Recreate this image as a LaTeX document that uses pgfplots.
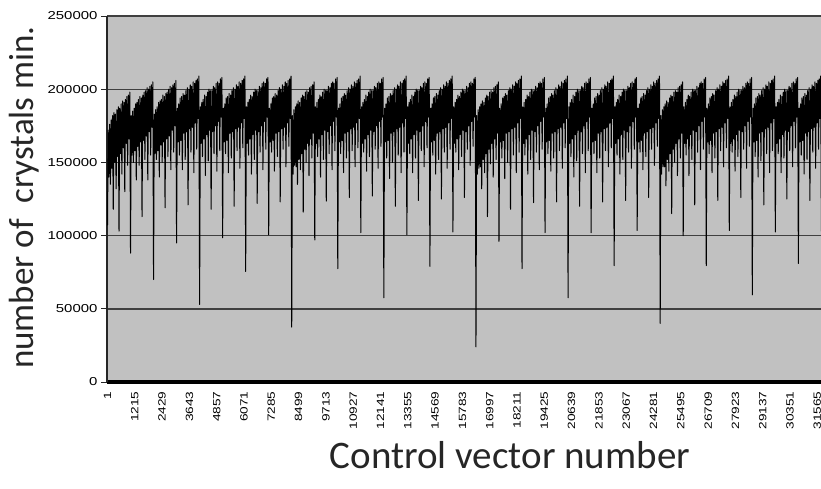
\documentclass[border=0pt]{standalone}
\usepackage{pgfplots}
\pgfplotsset{compat=1.18}
\usepackage{fontspec}
\usepackage{graphicx}
\setmainfont{Carlito}
\newfontfamily\arialf{Liberation Sans}
\newcommand{\sx}[1]{\scalebox{1.3}[1]{#1}}
\newcommand{\sy}[1]{\scalebox{1.3}[1]{#1}}
\definecolor{plotbg}{RGB}{193,193,193}
\begin{document}
\begin{tikzpicture}
\begin{axis}[
  at={(107pt,106pt)}, anchor=south west,
  scale only axis, width=737.4pt, height=366pt,
  xmin=-21, xmax=32768, ymin=0, ymax=250000,
  scaled ticks=false,
  axis background/.style={fill=plotbg},
  axis x line*=bottom, axis y line*=left,
  axis line style={-},
  x axis line style={line width=4.5pt, black},
  y axis line style={line width=1.4pt, black!85},
  ytick={0,50000,100000,150000,200000,250000},
  yticklabels={\sy{0},\sy{50000},\sy{100000},\sy{150000},\sy{200000},\sy{250000}},
  ymajorgrids, major grid style={black!75, line width=1.4pt},
  tick align=outside, major tick length=6pt,
  ytick style={black!85, line width=1pt},
  xtick={1,1215,2429,3643,4857,6071,7285,8499,9713,10927,12141,13355,14569,15783,16997,18211,19425,20639,21853,23067,24281,25495,26709,27923,29137,30351,31565},
  xticklabels={\sx{1},\sx{1215},\sx{2429},\sx{3643},\sx{4857},\sx{6071},\sx{7285},\sx{8499},\sx{9713},\sx{10927},\sx{12141},\sx{13355},\sx{14569},\sx{15783},\sx{16997},\sx{18211},\sx{19425},\sx{20639},\sx{21853},\sx{23067},\sx{24281},\sx{25495},\sx{26709},\sx{27923},\sx{29137},\sx{30351},\sx{31565}},
  xtick style={draw=none},
  xticklabel style={font=\arialf\fontsize{10.5}{10.5}\selectfont, rotate=90, anchor=east, black},
  yticklabel style={font=\arialf\fontsize{11.5}{11.5}\selectfont, black},
  xlabel={Control vector number},
  ylabel={number of\ \ crystals min.},
  xlabel style={font=\fontsize{39}{42}\selectfont, at={(axis description cs:0.5465,-0.199)}, anchor=center, black!85},
  ylabel style={font=\fontsize{35}{40}\selectfont, at={(axis description cs:-0.113,0.504)}, anchor=center, black!85},
]
\addplot[black, line width=1pt, line join=round] table[x expr=\coordindex*32+1, y=v, row sep=\\] {
v\\
107000\\172000\\140000\\176000\\135000\\179000\\146000\\182000\\118000\\184000\\150000\\183000\\132000\\186000\\154000\\188000\\103000\\187000\\156000\\190000\\142000\\192000\\160000\\191000\\130000\\193000\\163000\\195000\\148000\\196000\\166000\\198000\\
88000\\182000\\155000\\185000\\150000\\187000\\158000\\190000\\138000\\191000\\161000\\193000\\148000\\195000\\164000\\194000\\113000\\196000\\165000\\198000\\152000\\199000\\168000\\201000\\138000\\200000\\171000\\202000\\155000\\203000\\174000\\205000\\
70000\\183000\\156000\\186000\\152000\\188000\\158000\\191000\\140000\\192000\\162000\\193000\\150000\\196000\\164000\\195000\\119000\\197000\\166000\\198000\\154000\\200000\\168000\\202000\\145000\\201000\\172000\\203000\\157000\\204000\\175000\\206000\\
95000\\187000\\164000\\190000\\155000\\194000\\165000\\195000\\145000\\197000\\170000\\196000\\152000\\199000\\171000\\201000\\121000\\200000\\173000\\203000\\157000\\202000\\174000\\205000\\143000\\204000\\177000\\206000\\159000\\207000\\180000\\209000\\
53000\\188000\\163000\\191000\\154000\\193000\\166000\\196000\\141000\\195000\\169000\\198000\\151000\\200000\\172000\\199000\\118000\\199000\\171000\\202000\\156000\\201000\\175000\\204000\\144000\\205000\\178000\\204000\\158000\\207000\\181000\\208000\\
98500\\187000\\164000\\190000\\156000\\194000\\165000\\195000\\143000\\197000\\170000\\196000\\153000\\199000\\171000\\201000\\120000\\200000\\173000\\203000\\158000\\202000\\174000\\205000\\146000\\204000\\177000\\206000\\160000\\207000\\180000\\209000\\
75500\\188000\\163000\\191000\\155000\\193000\\166000\\196000\\142000\\195000\\169000\\198000\\152000\\200000\\172000\\199000\\122000\\199000\\171000\\202000\\157000\\201000\\175000\\204000\\145000\\205000\\178000\\204000\\159000\\207000\\181000\\208000\\
100500\\187000\\164000\\190000\\157000\\194000\\165000\\195000\\144000\\197000\\170000\\196000\\154000\\199000\\171000\\201000\\123000\\200000\\173000\\203000\\159000\\202000\\174000\\205000\\147000\\204000\\177000\\206000\\161000\\207000\\180000\\209000\\
37500\\182000\\142000\\186000\\148000\\188000\\147000\\190000\\135000\\192000\\152000\\191000\\145000\\194000\\156000\\196000\\116000\\195000\\159000\\198000\\150000\\199000\\163000\\198000\\141000\\201000\\166000\\202000\\153000\\203000\\170000\\205000\\
97000\\188000\\163000\\191000\\154000\\193000\\166000\\196000\\140000\\195000\\169000\\198000\\152000\\200000\\172000\\199000\\123500\\199000\\171000\\202000\\156000\\201000\\175000\\204000\\145000\\205000\\178000\\204000\\158000\\207000\\181000\\208000\\
77500\\187000\\164000\\190000\\156000\\194000\\165000\\195000\\143000\\197000\\170000\\196000\\153000\\199000\\171000\\201000\\126000\\200000\\173000\\203000\\158000\\202000\\174000\\205000\\147000\\204000\\177000\\206000\\160000\\207000\\180000\\209000\\
102000\\188000\\163000\\191000\\157000\\193000\\166000\\196000\\144000\\195000\\169000\\198000\\154000\\200000\\172000\\199000\\127000\\199000\\171000\\202000\\159000\\201000\\175000\\204000\\146000\\205000\\178000\\204000\\161000\\207000\\181000\\208000\\
57500\\187000\\164000\\190000\\153000\\194000\\165000\\195000\\139000\\197000\\170000\\196000\\150000\\199000\\171000\\201000\\120000\\200000\\173000\\203000\\155000\\202000\\174000\\205000\\143000\\204000\\177000\\206000\\157000\\207000\\180000\\209000\\
100500\\188000\\163000\\191000\\156000\\193000\\166000\\196000\\143000\\195000\\169000\\198000\\153000\\200000\\172000\\199000\\124000\\199000\\171000\\202000\\158000\\201000\\175000\\204000\\147000\\205000\\178000\\204000\\160000\\207000\\181000\\208000\\
79000\\187000\\164000\\190000\\155000\\194000\\165000\\195000\\142000\\197000\\170000\\196000\\152000\\199000\\171000\\201000\\125000\\200000\\173000\\203000\\157000\\202000\\174000\\205000\\146000\\204000\\177000\\206000\\159000\\207000\\180000\\209000\\
102500\\188000\\163000\\191000\\157000\\193000\\166000\\196000\\145000\\195000\\169000\\198000\\154000\\200000\\172000\\199000\\126000\\199000\\171000\\202000\\159000\\201000\\175000\\204000\\148000\\205000\\178000\\204000\\161000\\207000\\181000\\208000\\
24000\\182000\\142000\\186000\\146000\\188000\\147000\\190000\\132000\\192000\\152000\\191000\\143000\\194000\\156000\\196000\\113000\\195000\\159000\\198000\\149000\\199000\\163000\\198000\\140000\\201000\\166000\\202000\\152000\\203000\\170000\\205000\\
96000\\187000\\164000\\190000\\153000\\194000\\165000\\195000\\139000\\197000\\170000\\196000\\150000\\199000\\171000\\201000\\118000\\200000\\173000\\203000\\155000\\202000\\174000\\205000\\143000\\204000\\177000\\206000\\157000\\207000\\180000\\209000\\
77500\\188000\\163000\\191000\\155000\\193000\\166000\\196000\\142000\\195000\\169000\\198000\\152000\\200000\\172000\\199000\\122500\\199000\\171000\\202000\\157000\\201000\\175000\\204000\\145000\\205000\\178000\\204000\\159000\\207000\\181000\\208000\\
102000\\187000\\164000\\190000\\156000\\194000\\165000\\195000\\144000\\197000\\170000\\196000\\153000\\199000\\171000\\201000\\123000\\200000\\173000\\203000\\158000\\202000\\174000\\205000\\146000\\204000\\177000\\206000\\160000\\207000\\180000\\209000\\
57500\\188000\\163000\\191000\\154000\\193000\\166000\\196000\\140000\\195000\\169000\\198000\\151000\\200000\\172000\\199000\\120000\\199000\\171000\\202000\\156000\\201000\\175000\\204000\\143000\\205000\\178000\\204000\\158000\\207000\\181000\\208000\\
102000\\187000\\164000\\190000\\156000\\194000\\165000\\195000\\143000\\197000\\170000\\196000\\153000\\199000\\171000\\201000\\123000\\200000\\173000\\203000\\158000\\202000\\174000\\205000\\147000\\204000\\177000\\206000\\160000\\207000\\180000\\209000\\
79500\\188000\\163000\\191000\\155000\\193000\\166000\\196000\\142000\\195000\\169000\\198000\\152000\\200000\\172000\\199000\\124000\\199000\\171000\\202000\\157000\\201000\\175000\\204000\\146000\\205000\\178000\\204000\\159000\\207000\\181000\\208000\\
103500\\187000\\164000\\190000\\157000\\194000\\165000\\195000\\145000\\197000\\170000\\196000\\154000\\199000\\171000\\201000\\126000\\200000\\173000\\203000\\159000\\202000\\174000\\205000\\148000\\204000\\177000\\206000\\161000\\207000\\180000\\209000\\
40000\\182000\\142000\\186000\\147000\\188000\\147000\\190000\\134000\\192000\\152000\\191000\\144000\\194000\\156000\\196000\\115000\\195000\\159000\\198000\\150000\\199000\\163000\\198000\\141000\\201000\\166000\\202000\\153000\\203000\\170000\\205000\\
100000\\188000\\163000\\191000\\155000\\193000\\166000\\196000\\141000\\195000\\169000\\198000\\152000\\200000\\172000\\199000\\121000\\199000\\171000\\202000\\157000\\201000\\175000\\204000\\145000\\205000\\178000\\204000\\159000\\207000\\181000\\208000\\
79500\\187000\\164000\\190000\\156000\\194000\\165000\\195000\\143000\\197000\\170000\\196000\\153000\\199000\\171000\\201000\\124000\\200000\\173000\\203000\\158000\\202000\\174000\\205000\\147000\\204000\\177000\\206000\\160000\\207000\\180000\\209000\\
103500\\188000\\163000\\191000\\157000\\193000\\166000\\196000\\144000\\195000\\169000\\198000\\154000\\200000\\172000\\199000\\126000\\199000\\171000\\202000\\159000\\201000\\175000\\204000\\146000\\205000\\178000\\204000\\161000\\207000\\181000\\208000\\
59500\\187000\\164000\\190000\\154000\\194000\\165000\\195000\\140000\\197000\\170000\\196000\\151000\\199000\\171000\\201000\\121000\\200000\\173000\\203000\\156000\\202000\\174000\\205000\\143000\\204000\\177000\\206000\\158000\\207000\\180000\\209000\\
102500\\188000\\163000\\191000\\156000\\193000\\166000\\196000\\143000\\195000\\169000\\198000\\153000\\200000\\172000\\199000\\125000\\199000\\171000\\202000\\158000\\201000\\175000\\204000\\147000\\205000\\178000\\204000\\160000\\207000\\181000\\208000\\
81000\\187000\\164000\\190000\\155000\\194000\\165000\\195000\\142000\\197000\\170000\\196000\\152000\\199000\\171000\\201000\\124000\\200000\\173000\\203000\\157000\\202000\\174000\\205000\\146000\\204000\\177000\\206000\\159000\\207000\\180000\\209000\\
103000\\188000\\163000\\191000\\157000\\193000\\166000\\196000\\145000\\195000\\169000\\198000\\154000\\200000\\172000\\199000\\126000\\199000\\171000\\202000\\159000\\201000\\175000\\204000\\148000\\205000\\178000\\204000\\161000\\207000\\181000\\208000\\
};
\end{axis}
\pgfresetboundingbox
\path[use as bounding box] (0pt,0pt) rectangle (821pt,488pt);
\end{tikzpicture}
\end{document}
